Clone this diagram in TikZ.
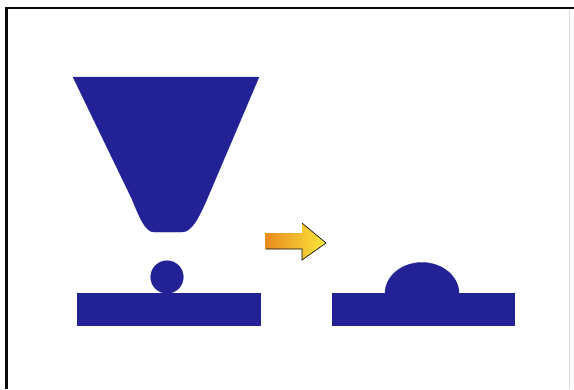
\documentclass[tikz,border=0pt]{standalone}

\definecolor{ink}{RGB}{34,34,150}
\definecolor{frameline}{RGB}{10,10,10}
\definecolor{tailcol}{RGB}{232,138,30}
\definecolor{headcol}{RGB}{250,232,60}

\newcommand*{\bartop}{293}
\newcommand*{\barbot}{325.5}
\newcommand*{\tipy}{243}

\begin{document}
\begin{tikzpicture}
[
	x=1pt,y=-1pt,
	blob/.style={fill=ink,draw=ink,line width=0.4pt},
	edge/.style={draw=frameline,line width=2.5pt}
]

	\useasboundingbox (0,0) rectangle (574,389);
	\fill[white] (0,0) rectangle (574,389);

	% frame
	\draw[edge] (6.5,7) -- (6.5,389);
	\draw[draw=frameline,line width=2pt] (5,8) -- (574,8);
	\draw[black!15,line width=0.8pt] (569.5,9) -- (569.5,389);

	% nozzle
	\fill[blob] (73,77) -- (259,77) -- (207,199)
		.. controls (199,217) and (192,232) .. (182,232)
		-- (154,232)
		.. controls (145,232) and (139,216) .. (132,199) -- cycle;

	% drop and left plate
	\fill[blob] (77,\bartop) rectangle (260,\barbot);
	\fill[blob] (167,277) circle (16.3);

	% arrow
	\shade[left color=tailcol,right color=headcol]
		(265,233) -- (302,233) -- (302,223) -- (326,\tipy)
		-- (302,260) -- (302,249) -- (265,249) -- cycle;
	\draw[black,line width=0.6pt] (302,223) -- (326,\tipy) -- (302,260) -- (302,249) -- (266,249);

	% spread drop and right plate
	\fill[blob] (385,\bartop+0.5) arc[start angle=180,end angle=0,x radius=37,y radius=-31];
	\fill[blob] (332,\bartop) rectangle (514,\barbot);

\end{tikzpicture}
\end{document}
